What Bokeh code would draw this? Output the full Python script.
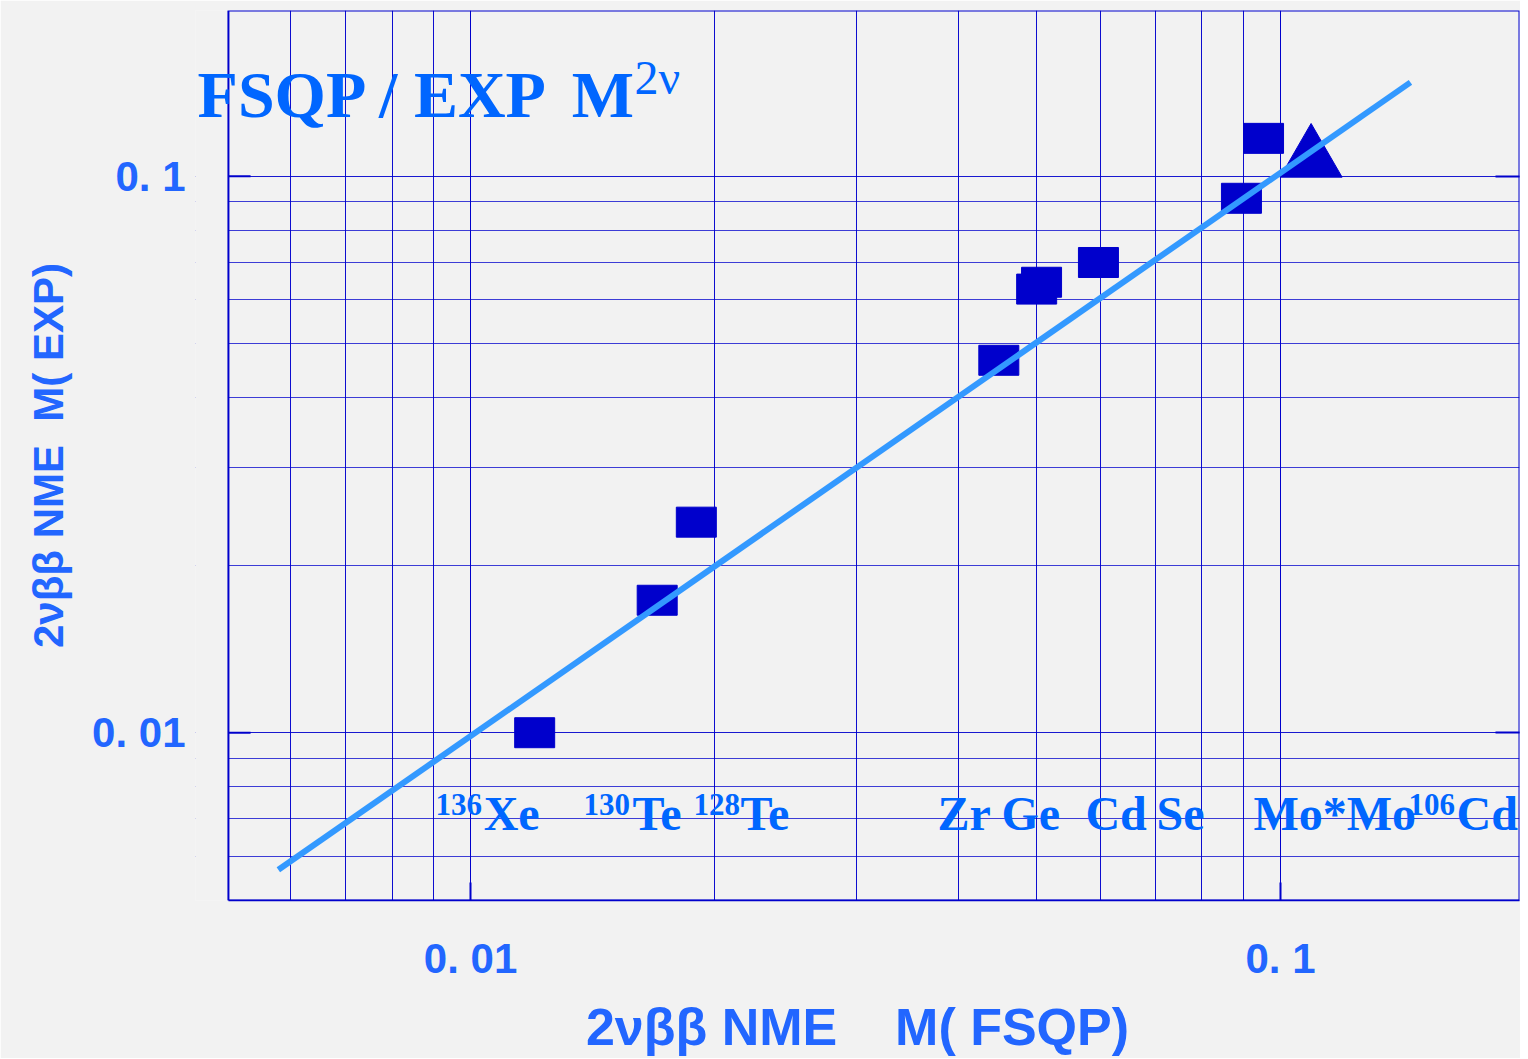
from bokeh.plotting import figure
from bokeh.models import FixedTicker, LogAxis, Label, BoxAnnotation
from bokeh.embed import file_html
from bokeh.resources import INLINE

# ---------------- data ----------------
fsqp_nme = [0.0120, 0.0170, 0.0190, 0.0449, 0.0500, 0.0507, 0.0596, 0.0895, 0.0953]
exp_nme = [0.0100, 0.0173, 0.0239, 0.0467, 0.0627, 0.0645, 0.0700, 0.0913, 0.1170]
cd106_fsqp = [0.1091]
cd106_exp = [0.1073]
fit_fsqp = [0.00579, 0.1447]
fit_exp = [0.00567, 0.1475]

major_ticks = [0.01, 0.1]
major_tick_labels = ["0. 01", "0. 1"]
minor_ticks = [0.006, 0.007, 0.008, 0.009,
               0.02, 0.03, 0.04, 0.05, 0.06, 0.07, 0.08, 0.09, 0.2]

nucleus_mass = ["136", "130", "128", "", "", "", "", "", "106"]
nucleus_mass_x = [0.009054, 0.01379, 0.01885, None, None, None, None, None, 0.1439]
nucleus_symbol = ["Xe", "Te", "Te", "Zr", "Ge", "Cd", "Se", "Mo*Mo", "Cd"]
nucleus_symbol_x = [0.01038, 0.01585, 0.02154, 0.03772, 0.04524, 0.05743, 0.07029, 0.09261, 0.1650]
symbol_mid_y = 0.007162
mass_mid_y = 0.007440

NB = "\u00a0"
title_main = "FSQP / EXP"
title_m = "M"
title_sup = "2\u03bd"
title_pos = [(0.004602, 0.1400), (0.01333, 0.1400), (0.01594, 0.1508)]
x_label = "2\u03bd\u03b2\u03b2 NME" + NB * 4 + "M( FSQP)"
y_label = "2\u03bd\u03b2\u03b2 NME" + NB * 2 + "M( EXP)"

# axes box extent and the (wider) drawing frame
box_x = (0.005024, 0.1973)
box_y = (0.004994, 0.1986)
frame_x = (0.004575, 0.1973)
left_tick_len = 1.065   # factor along log-x for the short inner ticks on the left edge

# ---------------- styles ----------------
BG = "#f2f2f2"
GRID = "#0000cc"
MARK = "#0000cc"
FIT = "#3399ff"
TXT = "#0066ff"
AX_TXT = "#2266ff"
SERIF = "Liberation Serif"
SANS = "Liberation Sans"

p = figure(width=1520, height=1058,
           x_axis_type="log", y_axis_type="log",
           x_range=frame_x, y_range=box_y,
           output_backend="svg", toolbar_location=None,
           background_fill_color=BG, border_fill_color=BG,
           min_border_left=195, min_border_right=1,
           min_border_top=10, min_border_bottom=157)
p.outline_line_color = None

xa = p.xaxis[0]
ya = p.yaxis[0]
overrides = {t: l for t, l in zip(major_ticks, major_tick_labels)}
for ax in (xa, ya):
    ax.ticker = FixedTicker(ticks=major_ticks, minor_ticks=minor_ticks)
    ax.major_label_overrides = overrides
    ax.major_label_text_font = SANS
    ax.major_label_text_font_style = "bold"
    ax.major_label_text_font_size = "42px"
    ax.major_label_text_color = AX_TXT
    ax.minor_tick_in = 0
    ax.minor_tick_out = 0
    ax.major_tick_line_color = GRID
    ax.major_tick_line_width = 2
    ax.axis_label_text_font = SANS
    ax.axis_label_text_font_style = "bold"
    ax.axis_label_text_color = AX_TXT

xa.bounds = box_x
xa.axis_line_color = GRID
xa.axis_line_width = 1.5
xa.major_tick_in = 18
xa.major_tick_out = 0
xa.major_label_standoff = 34
xa.axis_label = x_label
xa.axis_label_text_font_size = "52px"
xa.axis_label_standoff = 13

# left axis sits at the frame edge; labels placed relative to the box edge
ya.axis_line_color = None
ya.major_tick_line_color = None
ya.major_tick_out = 0
ya.major_tick_in = 0
ya.major_label_standoff = 10
ya.axis_label = y_label
ya.axis_label_text_font_size = "42px"
ya.axis_label_standoff = 17

right_axis = LogAxis(ticker=FixedTicker(ticks=major_ticks, minor_ticks=minor_ticks),
                     major_label_text_font_size="1px", major_label_text_alpha=0,
                     major_label_standoff=0,
                     major_tick_in=24, major_tick_out=0,
                     minor_tick_in=0, minor_tick_out=0,
                     major_tick_line_color=GRID, major_tick_line_width=2,
                     axis_line_color=None)
p.add_layout(right_axis, "right")

p.xgrid.grid_line_color = GRID
p.xgrid.minor_grid_line_color = GRID
p.xgrid.grid_line_alpha = 1.0
p.xgrid.minor_grid_line_alpha = 0.95
p.ygrid.grid_line_color = GRID
p.ygrid.minor_grid_line_color = GRID
p.ygrid.grid_line_alpha = 0.9
p.ygrid.minor_grid_line_alpha = 0.75

# hide grid left of the axes box, then draw the box border
p.add_layout(BoxAnnotation(right=box_x[0], fill_color=BG, fill_alpha=1,
                           line_color=None, level="underlay"))
p.add_layout(BoxAnnotation(left=box_x[0], fill_alpha=0, line_alpha=1,
                           line_color=GRID, line_width=2, level="underlay"))
# short inner major ticks on the left edge of the box
p.segment(x0=[box_x[0]] * len(major_ticks), x1=[box_x[0] * left_tick_len] * len(major_ticks),
          y0=major_ticks, y1=major_ticks, line_color=GRID, line_width=2)

# markers
p.rect(fsqp_nme, exp_nme, width=40, height=30,
       width_units="screen", height_units="screen",
       fill_color=MARK, line_color=MARK)
p.scatter(cd106_fsqp, cd106_exp, marker="triangle", size=62,
          fill_color=MARK, line_color=MARK)

# fit line y = x
p.line(fit_fsqp, fit_exp, line_width=6, line_color=FIT, line_cap="butt")


def add_text(x, y, text, size, style="bold"):
    p.add_layout(Label(x=x, y=y, text=text, x_units="data", y_units="data",
                       text_font=SERIF, text_font_style=style, text_font_size=size,
                       text_color=TXT, text_baseline="middle", text_align="left"))


# title
add_text(*title_pos[0], title_main, "66px")
add_text(*title_pos[1], title_m, "66px")
add_text(*title_pos[2], title_sup, "48px", "normal")

# nucleus labels
for m, mx, s, sx in zip(nucleus_mass, nucleus_mass_x, nucleus_symbol, nucleus_symbol_x):
    if m:
        add_text(mx, mass_mid_y, m, "31px")
    add_text(sx, symbol_mid_y, s, "48px")

open("out.html", "w").write(file_html(p, INLINE))
